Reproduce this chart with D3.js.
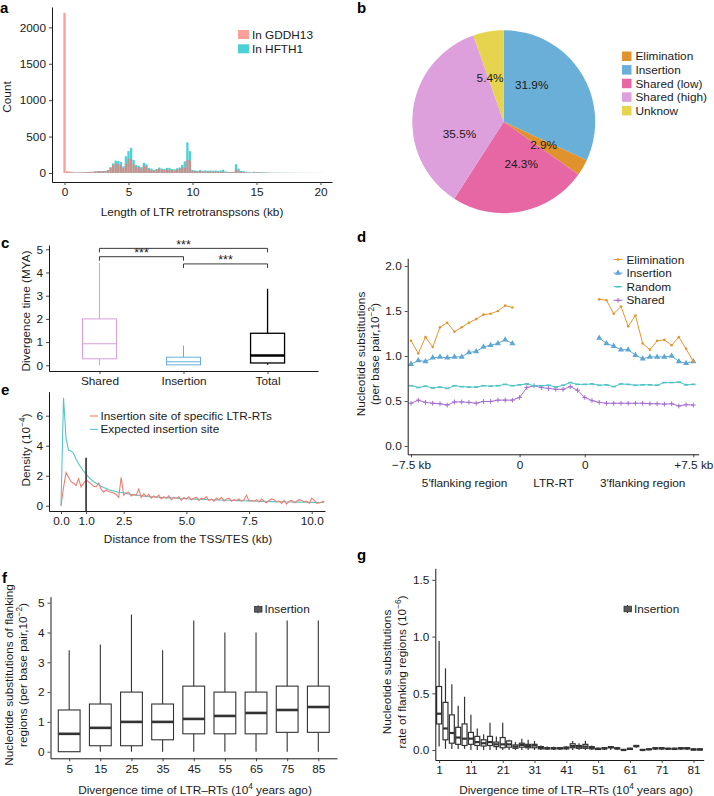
<!DOCTYPE html>
<html><head><meta charset="utf-8">
<script src="https://cdn.jsdelivr.net/npm/d3@7/dist/d3.min.js"></script>
<style>
body{margin:0;background:#fff;}
svg text{font-family:"Liberation Sans",Arial,Helvetica,sans-serif;}
</style></head>
<body>
<svg id="fig" width="714" height="796" xmlns="http://www.w3.org/2000/svg"></svg>
<script>
// ================= DATA =================
// --- a: histogram (bins of 0.2 kb, centres 0..20) ---
const aSeries = ["In GDDH13", "In HFTH1"];
const aGDDH13 = [2200,25,22,15,10,8,10,8,12,15, 15,18,20,25,22,25,25,35,70,110,
  130,120,100,70,120,200,190,120,80,80, 60,100,90,50,40,30,45,60,45,40,
  50,45,40,35,45,60,80,70,180,170, 30,20,20,25,20,20,18,20,18,20,
  15,15,18,12,10,10,15,50,30,15, 10,8,8,5,10,8,8,5,5,5,
  4,3,3,2,3,2,2,2,1,2, 1,1,2,1,1,1,1,1,1,1,1];
const aHFTH1 = [0,5,5,5,5,5,8,8,10,12, 15,15,22,25,28,25,28,40,80,130,
  170,165,150,90,230,300,345,180,110,100, 80,140,120,70,60,40,55,75,60,55,
  70,70,55,50,65,75,110,160,420,300, 40,35,30,40,30,35,30,35,30,35,
  28,35,45,20,15,12,15,120,60,30, 25,15,10,8,15,12,10,10,8,8,
  6,4,4,3,3,3,2,2,2,2, 2,1,2,1,1,1,1,1,1,1,1];
const aXTicks = [0, 5, 10, 15, 20];
const aYTicks = [0, 500, 1000, 1500, 2000];

// --- b: pie ---
const bCats = ["Insertion", "Elimination", "Shared (low)", "Shared (high)", "Unknow"];
const bPct = [31.9, 2.9, 24.3, 35.5, 5.4];
const bLabelAt = [0.104, 0.333, 0.438, 0.706, 0.952]; // label positions (fraction of circle)
const bLegend = ["Elimination", "Insertion", "Shared (low)", "Shared (high)", "Unknow"];

// --- c: boxplots ---
const cCats = ["Shared", "Insertion", "Total"];
const cLow = [0, 0.02, 0.02];
const cQ1 = [0.28, 0.02, 0.1];
const cMed = [0.93, 0.15, 0.42];
const cQ3 = [2.0, 0.35, 1.38];
const cHigh = [4.42, 0.85, 3.3];
const cSigFrom = ["Shared", "Shared", "Insertion"];
const cSigTo = ["Total", "Insertion", "Total"];
const cSigY = [5.04, 4.68, 4.37];
const cSigLabel = ["***", "***", "***"];
const cYTicks = [0, 1, 2, 3, 4, 5];

// --- d: substitutions around LTR-RT (40 bins) ---
const dSeries = ["Elimination", "Insertion", "Random", "Shared"];
const dElimination = [1.17,1.03,1.21,1.10,1.32,1.37,1.27,1.32,1.37,1.41,1.46,1.47,1.50,1.56,1.54,
  null,null,null,null,null,null,null,null,null,null,null,
  1.63,1.62,1.47,1.55,1.33,1.45,1.14,1.07,1.17,1.18,1.12,1.21,1.08,0.94];
const dInsertion = [0.91,0.95,0.94,0.98,0.99,0.98,0.99,0.99,1.04,1.05,1.10,1.12,1.14,1.18,1.14,
  null,null,null,null,null,null,null,null,null,null,null,
  1.20,1.14,1.11,1.07,1.07,1.01,0.97,0.99,0.99,0.99,1.00,0.94,0.92,0.94];
const dRandom = [0.67,0.65,0.665,0.645,0.655,0.64,0.67,0.66,0.655,0.655,0.67,0.665,0.67,0.685,0.67,
  0.68,0.69,0.67,0.67,0.675,0.655,0.675,0.705,0.685,0.685,0.69,
  0.675,0.68,0.66,0.69,0.685,0.675,0.68,0.68,0.675,0.705,0.705,0.71,0.68,0.685];
const dShared = [0.475,0.51,0.485,0.475,0.47,0.455,0.49,0.49,0.485,0.475,0.495,0.495,0.51,0.51,0.51,
  0.54,0.65,0.67,0.65,0.64,0.63,0.63,0.66,0.62,0.54,0.505,
  0.485,0.475,0.475,0.475,0.475,0.475,0.475,0.47,0.47,0.465,0.47,0.445,0.46,0.455];
const dTickAt = [0, 15, 24, 39];
const dTickLabels = ["\u22127.5 kb", "0", "0", "+7.5 kb"];
const dRegionAt = [7.4, 19.7, 32];
const dRegionLabels = ["5\u2032flanking region", "LTR-RT", "3\u2032flanking region"];
const dYTicks = [0, 0.5, 1.0, 1.5, 2.0];

// --- e: density vs distance (0.1 kb steps, 0..10.5) ---
const eSeries = ["Insertion site of specific LTR-RTs", "Expected insertion site"];
const eObserved = [0,1.2,2.2,1.9,1.6,1.5,1.35,1.8,1.25,1.5,
  1.7,1.6,1.45,1.3,1.25,1.5,1.1,0.9,1.05,0.95,
  0.9,0.85,0.75,0.55,1.9,0.7,0.85,0.9,0.65,0.75,
  0.7,1.1,0.55,0.8,0.6,0.75,0.5,0.65,0.55,0.7,
  0.45,0.6,0.5,0.65,0.4,0.55,0.5,0.6,0.35,0.55,
  0.45,0.6,0.4,0.5,0.55,0.35,0.5,0.45,0.6,0.35,
  0.45,0.3,0.5,0.4,0.55,0.3,0.45,0.5,0.3,0.4,
  0.35,0.45,0.3,0.4,0.7,0.3,0.35,0.3,0.4,0.25,
  0.45,0.3,0.2,0.35,0.45,0.4,0.25,0.3,0.15,0.35,
  0.1,0.3,0.35,0.2,0.3,0.4,0.35,0.25,0.3,0.15,
  0.5,0.35,0.15,0.2,0.25,0.3];
const eExpected = [0,7.2,4.5,3.7,3.65,3.5,3.1,2.8,2.55,2.3,
  2.1,1.9,1.75,1.6,1.5,1.4,1.3,1.22,1.15,1.08,
  1.02,0.98,0.94,0.9,0.88,0.86,0.82,0.78,0.75,0.72,
  0.7,0.68,0.66,0.64,0.62,0.6,0.59,0.58,0.57,0.56,
  0.55,0.54,0.53,0.52,0.52,0.51,0.5,0.49,0.48,0.47,
  0.46,0.45,0.45,0.44,0.44,0.43,0.42,0.42,0.41,0.4,
  0.4,0.39,0.39,0.38,0.38,0.37,0.36,0.36,0.35,0.35,
  0.34,0.34,0.33,0.33,0.32,0.32,0.31,0.31,0.3,0.3,
  0.29,0.29,0.28,0.28,0.27,0.27,0.27,0.26,0.26,0.26,
  0.25,0.25,0.25,0.24,0.24,0.24,0.23,0.23,0.23,0.22,
  0.22,0.22,0.22,0.21,0.21,0.24];
const eMarkX = 1.0, eMarkTop = 3.2;
const eXTicks = [0, 1, 2.5, 5, 7.5, 10];
const eYTicks = [0, 2, 4, 6];

// --- f: boxplots ---
const fCats = ["5","15","25","35","45","55","65","75","85"];
const fLow = [0,0,0,0,0,0,0,0,0];
const fQ1 = [0,0.2,0.2,0.4,0.6,0.6,0.6,0.65,0.65];
const fMed = [0.6,0.8,1.0,1.0,1.1,1.2,1.3,1.4,1.5];
const fQ3 = [1.4,1.6,2.0,1.6,2.2,2.0,2.0,2.2,2.2];
const fHigh = [3.4,3.6,4.6,3.4,4.4,4.0,4.0,4.4,4.4];
const fYTicks = [0,1,2,3,4,5];

// --- g: boxplots ---
const gCats = ["1","3","5","7","9","11","13","15","17","19","21","23","25","27","29","31","33","35","37","39","41",
  "43","45","47","49","51","53","55","57","59","61","63","65","67","69","71","73","75","77","79","81","83"];
const gHigh = [0.96,0.72,0.58,0.39,0.47,0.31,0.19,0.14,0.24,0.12,0.24,0.09,0.07,0.10,0.09,0.08,0.04,0.03,0.03,0.025,0.03,
  0.08,0.06,0.08,0.04,0.02,0.025,0.035,0.025,0.01,0.02,0.045,0.01,0.015,0.025,0.025,0.02,0.02,0.025,0.025,0.015,0.015];
const gQ3 = [0.56,0.42,0.31,0.20,0.23,0.155,0.12,0.09,0.12,0.07,0.11,0.08,0.045,0.06,0.05,0.05,0.03,0.02,0.02,0.02,0.025,
  0.055,0.04,0.05,0.03,0.015,0.02,0.03,0.02,0.005,0.015,0.04,0.005,0.01,0.02,0.02,0.015,0.015,0.02,0.02,0.01,0.01];
const gMed = [0.32,0.19,0.15,0.11,0.10,0.10,0.07,0.06,0.07,0.05,0.05,0.05,0.03,0.045,0.035,0.04,0.02,0.015,0.015,0.015,0.02,
  0.035,0.03,0.03,0.02,0.01,0.015,0.025,0.015,0.0,0.01,0.035,0.0,0.005,0.015,0.015,0.01,0.01,0.015,0.015,0.005,0.005];
const gQ1 = [0.23,0.09,0.06,0.05,0.04,0.05,0.04,0.035,0.04,0.03,0.02,0.025,0.015,0.025,0.02,0.02,0.01,0.01,0.01,0.01,0.01,
  0.02,0.015,0.015,0.01,0.005,0.01,0.02,0.01,0.0,0.005,0.03,0.0,0.005,0.01,0.01,0.01,0.005,0.01,0.01,0.0,0.0];
const gLow = [0.03,0.01,0.01,0.01,0.01,0,0,0,0,0,0,0,0,0,0,0,0,0,0,0,0,
  0,0,0,0,0,0,0,0,0,0,0.02,0,0,0,0,0,0,0,0,0,0];
const gXTickCats = ["1","11","21","31","41","51","61","71","81"];
const gYTicks = [0, 0.5, 1.0, 1.5];

// ================= DRAWING =================
const svg = d3.select("#fig");
const FS = 11.8;
const AX = "#000", TK = "#333", TX = "#1a1a1a";
const fmtInt = d3.format("d"), fmt1 = d3.format(".1f");

function styleAxis(g) {
  g.attr("font-size", FS).attr("font-family", '"Liberation Sans",Arial,sans-serif');
  g.select(".domain").attr("stroke", AX).attr("stroke-width", 0.9);
  g.selectAll(".tick line").attr("stroke", TK).attr("stroke-width", 0.9);
  g.selectAll(".tick text").attr("fill", TX);
}
function rich(t, parts, fs) {
  let up = false;
  parts.forEach(p => {
    const sup = typeof p !== "string";
    const tt = t.append("tspan").text(sup ? p.sup : p);
    if (sup) { tt.attr("font-size", fs * 0.7).attr("dy", -fs * 0.42); up = true; }
    else if (up) { tt.attr("dy", fs * 0.42); up = false; }
  });
  return t;
}
function vtitle(x, y, parts) {
  const t = svg.append("text").attr("transform", `translate(${x},${y}) rotate(-90)`)
    .attr("text-anchor", "middle").attr("dy", "0.35em").attr("font-size", FS).attr("fill", TX);
  rich(t, typeof parts === "string" ? [parts] : parts, FS);
}
function htitle(x, y, parts) {
  const t = svg.append("text").attr("x", x).attr("y", y).attr("text-anchor", "middle")
    .attr("font-size", FS).attr("fill", TX);
  rich(t, typeof parts === "string" ? [parts] : parts, FS);
}
function letter(x, y, s) {
  svg.append("text").attr("x", x).attr("y", y).attr("font-size", 15).attr("font-weight", "bold")
    .attr("fill", "#000").text(s);
}
function axes(xAxis, yAxis, yPix, xPix) {
  svg.append("g").attr("transform", `translate(0,${yPix})`).call(xAxis).call(styleAxis);
  svg.append("g").attr("transform", `translate(${xPix},0)`).call(yAxis).call(styleAxis);
}

// ---------- a ----------
{
  const x = d3.scaleLinear().domain([-0.977, 20.9]).range([52, 332]);
  const y = d3.scaleLinear().domain([-124, 2280]).range([182, 7]);
  const centres = d3.range(aGDDH13.length).map(i => i * 0.2);
  const g = svg.append("g");
  const cols = ["#F8766D", "#00BFC4"];
  const op = 0.7;
  const draw = (vals, col) => g.append("g").selectAll("rect").data(vals).join("rect")
    .attr("x", (d, i) => x(centres[i] - 0.09)).attr("width", x(0.18) - x(0))
    .attr("y", d => y(d)).attr("height", d => y(0) - y(d))
    .attr("fill", col).attr("fill-opacity", op);
  draw(aHFTH1, cols[1]);
  draw(aGDDH13, cols[0]);
  axes(d3.axisBottom(x).tickValues(aXTicks).tickFormat(fmtInt).tickSize(3).tickSizeOuter(0),
       d3.axisLeft(y).tickValues(aYTicks).tickFormat(fmtInt).tickSize(3).tickSizeOuter(0), 182, 52);
  htitle(192, 216, "Length of LTR retrotranspsons (kb)");
  vtitle(7, 97, "Count");
  aSeries.forEach((s, i) => {
    svg.append("rect").attr("x", 238).attr("y", 30 + i * 14.3).attr("width", 11).attr("height", 9)
      .attr("fill", cols[i]).attr("fill-opacity", op);
    svg.append("text").attr("x", 252).attr("y", 34.5 + i * 14.3).attr("dy", "0.35em")
      .attr("font-size", FS).attr("fill", TX).text(s);
  });
  letter(0, 13, "a");
}

// ---------- b ----------
{
  const cx = 503.7, cy = 121.7, r = 91.5;
  const colors = {"Elimination": "#E0922C", "Insertion": "#6AAFD7", "Shared (low)": "#E767A5",
                  "Shared (high)": "#DDA0DD", "Unknow": "#E6D34E"};
  const pie = d3.pie().sort(null).value(d => d)(bPct);
  const arc = d3.arc().innerRadius(0).outerRadius(r);
  const g = svg.append("g").attr("transform", `translate(${cx},${cy})`);
  g.selectAll("path").data(pie).join("path").attr("d", arc)
    .attr("fill", (d, i) => colors[bCats[i]]);
  const lr = 46;
  g.selectAll("text").data(bPct).join("text")
    .attr("x", (d, i) => lr * Math.sin(bLabelAt[i] * 2 * Math.PI))
    .attr("y", (d, i) => -lr * Math.cos(bLabelAt[i] * 2 * Math.PI))
    .attr("dy", "0.35em").attr("text-anchor", "middle").attr("font-size", FS).attr("fill", "#1a1a1a")
    .text(d => d.toFixed(1) + "%");
  bLegend.forEach((s, i) => {
    svg.append("rect").attr("x", 622).attr("y", 51.5 + i * 13.6).attr("width", 9.5).attr("height", 9.5)
      .attr("fill", colors[s]);
    svg.append("text").attr("x", 635.5).attr("y", 56.3 + i * 13.6).attr("dy", "0.35em")
      .attr("font-size", FS).attr("fill", TX).text(s);
  });
  letter(357, 13, "b");
}

// ---------- c ----------
{
  const x = d3.scalePoint().domain(cCats).range([49, 318]).padding(0.6);
  const y = d3.scaleLinear().domain([-0.246, 5.185]).range([371, 245]);
  const cols = ["#D89CD8", "#6AAFD7", "#000"];
  const bw = 34;
  const g = svg.append("g");
  cCats.forEach((c, i) => {
    const cxp = x(c), col = cols[i], sw = i === 2 ? 1.3 : 1;
    g.append("line").attr("x1", cxp).attr("x2", cxp).attr("y1", y(cHigh[i])).attr("y2", y(cQ3[i]))
      .attr("stroke", col).attr("stroke-width", sw);
    g.append("line").attr("x1", cxp).attr("x2", cxp).attr("y1", y(cQ1[i])).attr("y2", y(cLow[i]))
      .attr("stroke", col).attr("stroke-width", sw);
    g.append("rect").attr("x", cxp - bw / 2).attr("width", bw).attr("y", y(cQ3[i]))
      .attr("height", y(cQ1[i]) - y(cQ3[i])).attr("fill", "#fff").attr("stroke", col).attr("stroke-width", sw);
    g.append("line").attr("x1", cxp - bw / 2).attr("x2", cxp + bw / 2).attr("y1", y(cMed[i])).attr("y2", y(cMed[i]))
      .attr("stroke", col).attr("stroke-width", i === 2 ? 2.6 : 1.1);
  });
  cSigY.forEach((v, i) => {
    const x1 = x(cSigFrom[i]), x2 = x(cSigTo[i]), yy = y(v), yt = yy + 4;
    g.append("path").attr("d", `M${x1},${yt}V${yy}H${x2}V${yt}`).attr("fill", "none")
      .attr("stroke", "#222").attr("stroke-width", 0.9);
    g.append("text").attr("x", (x1 + x2) / 2).attr("y", yy + 0.5).attr("text-anchor", "middle")
      .attr("font-size", 12.5).attr("fill", "#222").text(cSigLabel[i]);
  });
  axes(d3.axisBottom(x).tickSize(3).tickSizeOuter(0),
       d3.axisLeft(y).tickValues(cYTicks).tickFormat(fmtInt).tickSize(3).tickSizeOuter(0), 371, 49);
  vtitle(26, 311, "Divergence time (MYA)");
  letter(1, 248, "c");
}

// ---------- d ----------
{
  const x = d3.scaleLinear().domain([-0.46, 39.74]).range([407.7, 698.7]);
  const y = d3.scaleLinear().domain([-0.092, 2.086]).range([454.3, 258.3]);
  const cols = {"Elimination": "#E3962F", "Insertion": "#5FA6D3", "Random": "#4EC3C6", "Shared": "#A56ED0"};
  const series = {"Elimination": dElimination, "Insertion": dInsertion, "Random": dRandom, "Shared": dShared};
  const line = d3.line().defined(d => d != null).x((d, i) => x(i)).y(d => y(d));
  const g = svg.append("g");
  function marker(sel, name, px, py) {
    const c = cols[name];
    if (name === "Elimination") sel.append("circle").attr("cx", px).attr("cy", py).attr("r", 1.3).attr("fill", c);
    else if (name === "Insertion") sel.append("path").attr("transform", `translate(${px},${py})`)
      .attr("d", d3.symbol(d3.symbolTriangle, 16)()).attr("fill", c);
    else if (name === "Random") sel.append("line").attr("x1", px - 2.2).attr("x2", px + 2.2).attr("y1", py).attr("y2", py)
      .attr("stroke", c).attr("stroke-width", 1.6);
    else { sel.append("path").attr("d", `M${px - 2.4},${py}H${px + 2.4}M${px},${py - 2.4}V${py + 2.4}`)
      .attr("stroke", c).attr("stroke-width", 1); }
  }
  ["Shared", "Random", "Insertion", "Elimination"].forEach(name => {
    const vals = series[name];
    g.append("path").attr("d", line(vals)).attr("fill", "none").attr("stroke", cols[name]).attr("stroke-width", 1);
    vals.forEach((v, i) => { if (v != null) marker(g, name, x(i), y(v)); });
  });
  axes(d3.axisBottom(x).tickValues(dTickAt).tickFormat((d, i) => dTickLabels[i]).tickSize(3).tickSizeOuter(0),
       d3.axisLeft(y).tickValues(dYTicks).tickFormat(fmt1).tickSize(3).tickSizeOuter(0), 454.3, 407.7);
  dRegionLabels.forEach((s, i) => {
    svg.append("text").attr("x", x(dRegionAt[i])).attr("y", 486.5).attr("text-anchor", "middle")
      .attr("font-size", FS).attr("fill", TX).text(s);
  });
  dSeries.forEach((s, i) => {
    const yy = 259.5 + i * 13.6;
    svg.append("line").attr("x1", 613.5).attr("x2", 622.5).attr("y1", yy).attr("y2", yy)
      .attr("stroke", cols[s]).attr("stroke-width", 1);
    marker(svg, s, 618, yy);
    svg.append("text").attr("x", 626.5).attr("y", yy).attr("dy", "0.35em").attr("font-size", FS)
      .attr("fill", TX).text(s);
  });
  vtitle(361, 354, "Nucleotide substitutions");
  vtitle(374.5, 354, ["(per base pair,10", {sup: "\u22122"}, ")"]);
  letter(357, 242, "d");
}

// ---------- e ----------
{
  const x = d3.scaleLinear().domain([-0.479, 10.53]).range([49, 325]);
  const y = d3.scaleLinear().domain([-0.353, 7.6]).range([511, 391.7]);
  const dist = d3.range(eObserved.length).map(i => i * 0.1);
  const cols = ["#F07D74", "#58C4C7"];
  const line = d3.line().x((d, i) => x(dist[i])).y(d => y(d));
  svg.append("path").attr("d", line(eExpected)).attr("fill", "none").attr("stroke", cols[1]).attr("stroke-width", 1.1);
  svg.append("path").attr("d", line(eObserved)).attr("fill", "none").attr("stroke", cols[0]).attr("stroke-width", 1.1);
  svg.append("line").attr("x1", x(eMarkX)).attr("x2", x(eMarkX)).attr("y1", y(eMarkTop)).attr("y2", 511)
    .attr("stroke", "#444").attr("stroke-width", 1.8);
  axes(d3.axisBottom(x).tickValues(eXTicks).tickFormat(fmt1).tickSize(3).tickSizeOuter(0),
       d3.axisLeft(y).tickValues(eYTicks).tickFormat(fmtInt).tickSize(3).tickSizeOuter(0), 511, 49);
  eSeries.forEach((s, i) => {
    const yy = 416 + i * 13.3;
    svg.append("line").attr("x1", 90).attr("x2", 98).attr("y1", yy).attr("y2", yy).attr("stroke", cols[i]).attr("stroke-width", 1.1);
    svg.append("text").attr("x", 100.5).attr("y", yy).attr("dy", "0.35em").attr("font-size", FS).attr("fill", TX).text(s);
  });
  htitle(188, 543, "Distance from the TSS/TES (kb)");
  vtitle(26, 450, ["Density (10", {sup: "\u22124"}, ")"]);
  letter(1, 395, "e");
}

// ---------- box helper ----------
function boxes(x, y, cats, low, q1, med, q3, high, bw, sw, mw) {
  const g = svg.append("g");
  cats.forEach((c, i) => {
    const cxp = x(c);
    g.append("line").attr("x1", cxp).attr("x2", cxp).attr("y1", y(high[i])).attr("y2", y(q3[i]))
      .attr("stroke", "#333").attr("stroke-width", sw);
    g.append("line").attr("x1", cxp).attr("x2", cxp).attr("y1", y(q1[i])).attr("y2", y(low[i]))
      .attr("stroke", "#333").attr("stroke-width", sw);
    g.append("rect").attr("x", cxp - bw / 2).attr("width", bw).attr("y", y(q3[i]))
      .attr("height", Math.max(0.01, y(q1[i]) - y(q3[i]))).attr("fill", "#fff").attr("stroke", "#333").attr("stroke-width", sw);
    g.append("line").attr("x1", cxp - bw / 2).attr("x2", cxp + bw / 2).attr("y1", y(med[i])).attr("y2", y(med[i]))
      .attr("stroke", "#333").attr("stroke-width", mw);
  });
}
function boxKey(x0, yc, label) {
  svg.append("line").attr("x1", x0 + 3.5).attr("x2", x0 + 3.5).attr("y1", yc - 4).attr("y2", yc + 4).attr("stroke", "#333");
  svg.append("rect").attr("x", x0).attr("y", yc - 2.8).attr("width", 7.5).attr("height", 5.6)
    .attr("fill", "#595959").attr("stroke", "#333").attr("stroke-width", 0.8);
  svg.append("text").attr("x", x0 + 10).attr("y", yc).attr("dy", "0.35em").attr("font-size", FS).attr("fill", TX).text(label);
}

// ---------- f ----------
{
  const x = d3.scalePoint().domain(fCats).range([50.5, 337]).padding(0.6);
  const y = d3.scaleLinear().domain([-0.221, 5.2]).range([758.3, 596.7]);
  boxes(x, y, fCats, fLow, fQ1, fMed, fQ3, fHigh, x.step() * 0.7, 1.1, 2.6);
  axes(d3.axisBottom(x).tickSize(3).tickSizeOuter(0),
       d3.axisLeft(y).tickValues(fYTicks).tickFormat(fmtInt).tickSize(3).tickSizeOuter(0), 758.3, 50.5);
  boxKey(254.5, 609.3, "Insertion");
  htitle(195, 794, ["Divergence time of LTR\u2013RTs (10", {sup: "4"}, " years ago)"]);
  vtitle(9, 675, "Nucleotide substitutions of flanking");
  vtitle(22.5, 675, ["regions (per base pair,10", {sup: "\u22122"}, ")"]);
  letter(2, 583, "f");
}

// ---------- g ----------
{
  const x = d3.scalePoint().domain(gCats).range([435.3, 703.7]).padding(0.6);
  const y = d3.scaleLinear().domain([-0.088, 1.602]).range([760, 568.3]);
  boxes(x, y, gCats, gLow, gQ1, gMed, gQ3, gHigh, x.step() * 0.78, 1.2, 2.2);
  axes(d3.axisBottom(x).tickValues(gXTickCats).tickSize(3).tickSizeOuter(0),
       d3.axisLeft(y).tickValues(gYTicks).tickFormat(fmt1).tickSize(3).tickSizeOuter(0), 760, 435.3);
  boxKey(624, 609, "Insertion");
  htitle(576, 794, ["Divergence time of LTR\u2013RTs (10", {sup: "4"}, " years ago)"]);
  vtitle(387, 672, "Nucleotide substitutions");
  vtitle(401.5, 672, ["rate of flanking regions (10", {sup: "\u22126"}, ")"]);
  letter(357, 560, "g");
}
</script>
</body></html>
